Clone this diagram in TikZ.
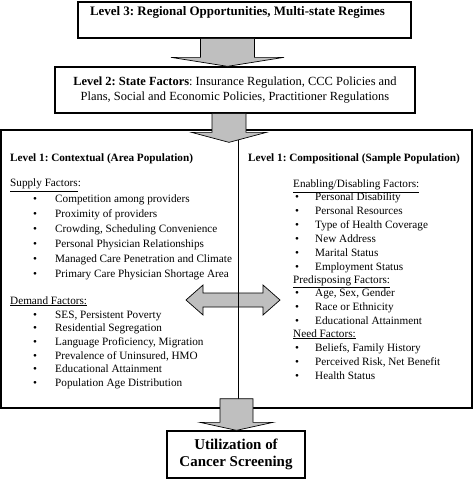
\documentclass[tikz,border=0pt]{standalone}
\usepackage{fontspec}
\setmainfont{Liberation Serif}
\frenchspacing
\usetikzlibrary{calc}
\tikzset{box/.style={draw,line width=1.3pt,fill=white,inner sep=0pt},
  blk/.style={draw,line width=0.7pt,fill=black!25,line join=miter},
  itm/.style={anchor=base west,inner sep=0pt,font=\fontsize{11.25}{13}\selectfont},
  bul/.style={itm,xshift=-2bp}}
\newcommand\downblk[5]{%
  \draw[blk] ($(#1)+(-#3,0)$) -- ($(#1)+(#3,0)$) -- ($(#1|-#2)+(#3,-#5)$)
    -- ($(#1|-#2)+(#4,-#5)$) -- (#1|-#2) -- ($(#1|-#2)+(-#4,-#5)$)
    -- ($(#1|-#2)+(-#3,-#5)$) -- cycle;}

\begin{document}
\begin{tikzpicture}[x=1bp,y=-1bp]
\useasboundingbox (0,0) rectangle (473,479);

\node[box,minimum width=333bp,minimum height=36bp] (lev3) at (244.5,20) {};
\node[itm,anchor=base,font=\fontsize{13}{15}\bfseries] (lev3txt) at (237.5,15.5)
  {Level 3: Regional Opportunities, Multi-state Regimes};

\node[box,minimum width=360bp,minimum height=46bp,align=center,
  font=\fontsize{12.5}{15}\selectfont] (lev2) at (235,90)
  {\textbf{Level 2: State Factors}: Insurance Regulation, CCC Policies and\\
   Plans, Social and Economic Policies, Practitioner Regulations};

\node[box,minimum width=471bp,minimum height=278bp] (lev1) at (236.5,269) {};

\node[box,minimum width=138bp,minimum height=47bp,align=center,
  font=\fontsize{15}{16.5}\bfseries] (util) at (236,454.5)
  {Utilization of\\Cancer Screening};

% left column
\node[itm,font=\fontsize{11.25}{13}\bfseries] (ctx) at (10,162) {Level 1: Contextual (Area Population)};
\node[itm] (sup) at (10,187) {\underline{Supply Factors}:};
\foreach \t [count=\i from 0] in {Competition among providers, Proximity of providers,
    {Crowding, Scheduling Convenience}, Personal Physician Relationships,
    Managed Care Penetration and Climate, Primary Care Physician Shortage Area}
  {\node[bul] (sb\i) at (35,202+15*\i) {\textbullet};
   \node[itm] (s\i) at (55,202+15*\i) {\t};}
\node[itm] (dem) at (10,304) {\underline{Demand Factors:}};
\foreach \t [count=\i from 0] in {{SES, Persistent Poverty}, Residential Segregation,
    {Language Proficiency, Migration}, {Prevalence of Uninsured, HMO},
    Educational Attainment, Population Age Distribution}
  {\node[bul] (db\i) at (35,318+13.7*\i) {\textbullet};
   \node[itm] (d\i) at (55,318+13.7*\i) {\t};}

% right column
\node[itm,font=\fontsize{11.25}{13}\bfseries] (cmp) at (248,162) {Level 1: Compositional (Sample Population)};
\node[itm] (ena) at (293,188) {\underline{Enabling/Disabling Factors:}};
\foreach \t [count=\i from 0] in {Personal Disability, Personal Resources,
    Type of Health Coverage, New Address, Marital Status, Employment Status}
  {\node[bul] (eb\i) at (297,200+14*\i) {\textbullet};
   \node[itm] (e\i) at (315,200+14*\i) {\t};}
\node[itm] (pre) at (293,283) {\underline{Predisposing Factors:}};
\foreach \t [count=\i from 0] in {{Age, Sex, Gender}, Race or Ethnicity, Educational Attainment}
  {\node[bul] (pb\i) at (297,296+14*\i) {\textbullet};
   \node[itm] (p\i) at (315,296+14*\i) {\t};}
\node[itm] (need) at (293,337) {\underline{Need Factors:}};
\foreach \t [count=\i from 0] in {{Beliefs, Family History}, {Perceived Risk, Net Benefit}, Health Status}
  {\node[bul] (nb\i) at (297,351+14*\i) {\textbullet};
   \node[itm] (n\i) at (315,351+14*\i) {\t};}

% double arrow between the columns
\coordinate (dl) at (186,300);
\coordinate (dr) at (280,300);
\draw[blk] (dl) -- ($(dl)+(17,-15)$) -- ($(dl)+(17,-7)$) -- ($(dr)+(-17,-7)$)
  -- ($(dr)+(-17,-15)$) -- (dr) -- ($(dr)+(-17,15)$) -- ($(dr)+(-17,7)$)
  -- ($(dl)+(17,7)$) -- ($(dl)+(17,15)$) -- cycle;

\coordinate (div) at ($(lev1.north)+(1.5,0)$);
\draw[line width=0.8pt] (div) -- (div|-lev1.south);

\coordinate (a1) at ($(lev3.south)+(-17,0)$);
\downblk{a1}{lev2.north}{27}{56.5}{9}
\coordinate (a2) at ($(lev2.south)+(-6,0)$);
\coordinate (a2tip) at ($(lev1.north)+(0,13)$);
\downblk{a2}{a2tip}{17}{37.5}{10}
\coordinate (a3) at ($(lev1.south)+(0,-10)$);
\downblk{a3}{util.north}{16.5}{36.5}{8}
\end{tikzpicture}
\end{document}
